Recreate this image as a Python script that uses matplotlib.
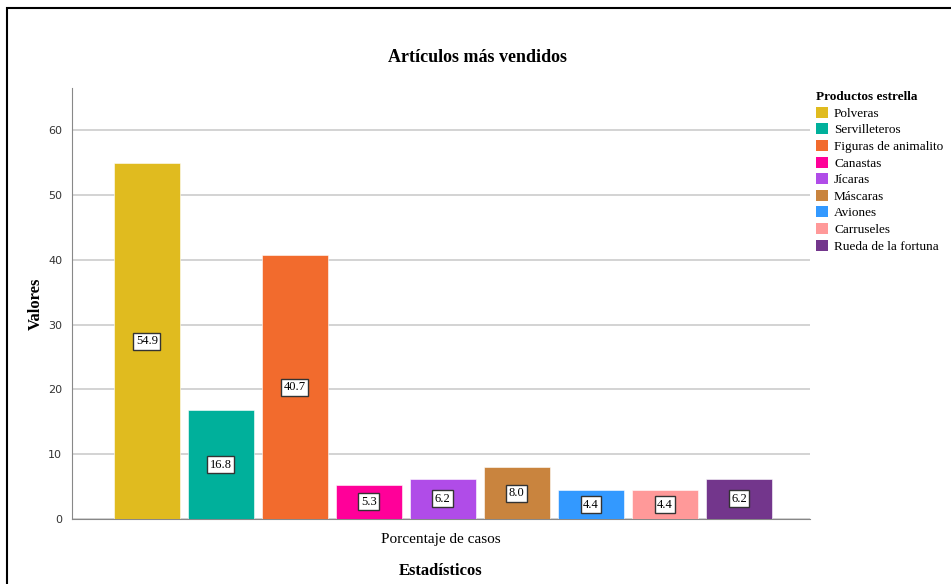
import matplotlib.pyplot as plt
from matplotlib.patches import Patch, Rectangle

productos = ['Polveras', 'Servilleteros', 'Figuras de animalito', 'Canastas',
             'Jícaras', 'Máscaras', 'Aviones', 'Carruseles', 'Rueda de la fortuna']
valores = [54.9, 16.8, 40.7, 5.3, 6.2, 8.0, 4.4, 4.4, 6.2]
colores = ['#E0BB1F', '#00B09B', '#F26B2D', '#FF0099', '#B04CE8',
           '#C9843E', '#3399FF', '#FF9999', '#73368C']
yticks = [0, 10, 20, 30, 40, 50, 60]

SERIF = 'Liberation Serif'


def main():
    fig = plt.figure(figsize=(9.51, 5.84), dpi=100)
    ax = fig.add_axes([72 / 951, 1 - 519 / 584, (810 - 72) / 951, (519 - 88) / 584])

    # outer frame
    fig.add_artist(Rectangle((7 / 951, -0.05), 1.0, 1 - 8 / 584 + 0.05,
                             transform=fig.transFigure, fill=False,
                             edgecolor='black', linewidth=1.5))

    x = list(range(len(valores)))
    bars = ax.bar(x, valores, width=0.89, color=colores, zorder=3,
                  edgecolor='white', linewidth=0.4)
    for b, v in zip(bars, valores):
        ax.text(b.get_x() + b.get_width() / 2, v / 2, f'{v:.1f}',
                ha='center', va='center', fontsize=9, family=SERIF, zorder=4,
                bbox=dict(boxstyle='square,pad=0.2', facecolor='white',
                          edgecolor='#333333', linewidth=1))

    ax.set_xlim(-1.01, 8.96)
    ax.set_ylim(0, 66.5)
    ax.set_yticks(yticks)
    ax.set_yticklabels([str(t) for t in yticks], fontsize=8, color='#333333')
    ax.tick_params(axis='y', length=0, pad=7)
    ax.set_xticks([3.975])
    ax.set_xticklabels(['Porcentaje de casos'], fontsize=11, family=SERIF)
    ax.tick_params(axis='x', length=0, pad=10)
    ax.yaxis.grid(True, color='#cccccc', linewidth=1.2, zorder=0)
    ax.set_axisbelow(True)
    for s in ['top', 'right']:
        ax.spines[s].set_visible(False)
    ax.spines['left'].set_color('#888888')
    ax.spines['bottom'].set_color('#888888')

    ax.set_ylabel('Valores', fontsize=12, family=SERIF, fontweight='bold', labelpad=3)
    ax.set_xlabel('Estadísticos', fontsize=12, family=SERIF, fontweight='bold', labelpad=12)
    fig.text(477 / 951, 1 - 58 / 584, 'Artículos más vendidos', ha='center', va='center',
             fontsize=13, family=SERIF, fontweight='bold')

    handles = [Patch(facecolor=c, edgecolor='none', label=p) for p, c in zip(productos, colores)]
    leg = fig.legend(handles=handles, title='Productos estrella', loc='upper left',
                     bbox_to_anchor=(811 / 951, 1 - 86 / 584), frameon=False,
                     prop={'family': SERIF, 'size': 9.5}, handlelength=0.9,
                     handleheight=0.9, handletextpad=0.45, labelspacing=0.27,
                     borderaxespad=0, alignment='left')
    leg.get_title().set_fontfamily(SERIF)
    leg.get_title().set_fontweight('bold')
    leg.get_title().set_fontsize(9.5)

    plt.savefig('out.png', dpi=100)


if __name__ == "__main__":
    main()
